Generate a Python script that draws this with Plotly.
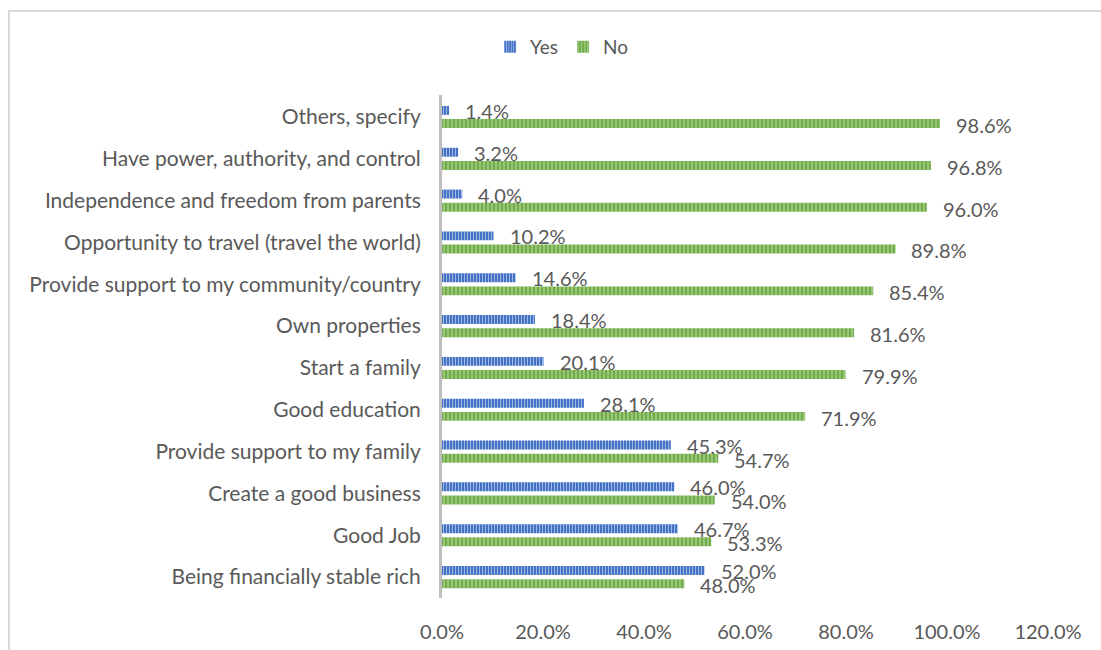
import plotly.graph_objects as go

# Survey responses: reasons / aspirations, share answering Yes vs No
categories = [
    "Others, specify",
    "Have power, authority, and control",
    "Independence and freedom from parents",
    "Opportunity to travel (travel the world)",
    "Provide support to my community/country",
    "Own properties",
    "Start a family",
    "Good education",
    "Provide support to my family",
    "Create a good business",
    "Good Job",
    "Being financially stable rich",
]
yes_values = [1.4, 3.2, 4.0, 10.2, 14.6, 18.4, 20.1, 28.1, 45.3, 46.0, 46.7, 52.0]
no_values = [98.6, 96.8, 96.0, 89.8, 85.4, 81.6, 79.9, 71.9, 54.7, 54.0, 53.3, 48.0]
x_ticks = [0, 20, 40, 60, 80, 100, 120]

FONT = "Lato"
TEXT = "#595959"
BLUE = "#4472C4"
GREEN = "#70AD47"

yes_frac = [v / 100 for v in yes_values]
no_frac = [v / 100 for v in no_values]

fig = go.Figure()
fig.add_trace(go.Bar(
    name="Yes", y=categories, x=yes_frac, orientation="h",
    marker=dict(color=BLUE, line=dict(width=0),
                pattern=dict(shape="|", size=3, solidity=0.3,
                             bgcolor=BLUE, fgcolor="#A9BFE6", fillmode="replace")),
    hoverinfo="skip",
))
fig.add_trace(go.Bar(
    name="No", y=categories, x=no_frac, orientation="h",
    marker=dict(color=GREEN, line=dict(width=0),
                pattern=dict(shape="|", size=4, solidity=0.3,
                             bgcolor=GREEN, fgcolor="#B5D69F", fillmode="replace")),
    hoverinfo="skip",
))

# value labels placed just past the end of each bar
annotations = []
for cat, yv, nv in zip(categories, yes_frac, no_frac):
    annotations.append(dict(x=yv, y=cat, xref="x", yref="y", text=f"{yv*100:.1f}%",
                            showarrow=False, xanchor="left", yanchor="middle",
                            xshift=14, yshift=6,
                            font=dict(family=FONT, size=20, color=TEXT)))
    annotations.append(dict(x=nv, y=cat, xref="x", yref="y", text=f"{nv*100:.1f}%",
                            showarrow=False, xanchor="left", yanchor="middle",
                            xshift=14, yshift=-8,
                            font=dict(family=FONT, size=20, color=TEXT)))

fig.update_layout(
    width=1101, height=650,
    margin=dict(l=442, r=53, t=95, b=52),
    paper_bgcolor="white", plot_bgcolor="white",
    barmode="group", bargap=0.37, bargroupgap=0.32,
    font=dict(family=FONT, size=20, color=TEXT),
    showlegend=True,
    legend=dict(orientation="h", xref="container", yref="container",
                x=0.5105, y=0.928, xanchor="center", yanchor="middle",
                font=dict(family=FONT, size=19, color=TEXT),
                itemwidth=30, tracegroupgap=0),
    annotations=annotations,
    shapes=[dict(type="rect", xref="paper", yref="paper",
                 x0=-0.7145, x1=1.3, y0=-0.3, y1=1.167,
                 line=dict(color="#D9D9D9", width=2), layer="below")],
    xaxis=dict(range=[0, 1.2], tickvals=[t / 100 for t in x_ticks],
               tickformat=".1%", showgrid=False, zeroline=False,
               showline=False, ticks="", ticklabelstandoff=20, automargin=False,
               tickfont=dict(family=FONT, size=20, color=TEXT), fixedrange=True),
    yaxis=dict(autorange="reversed", showgrid=False, zeroline=False,
               showline=True, linecolor="#BFBFBF", linewidth=3,
               ticks="", ticklabelstandoff=14, automargin=False,
               tickfont=dict(family=FONT, size=21, color=TEXT), fixedrange=True),
)

fig.write_html("out.html")
